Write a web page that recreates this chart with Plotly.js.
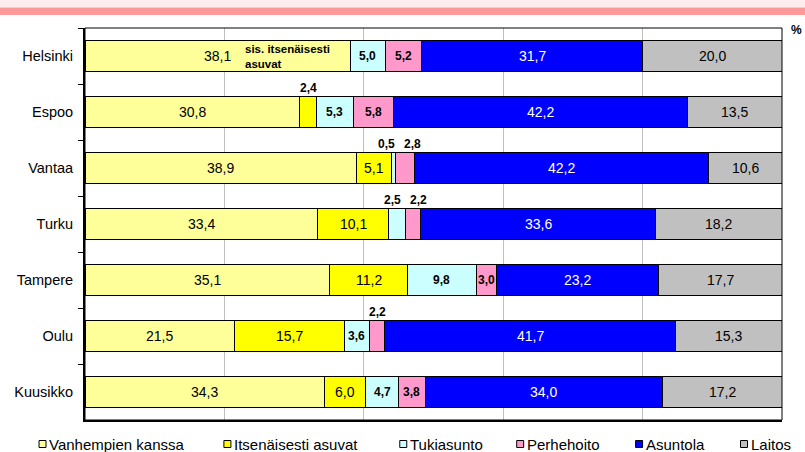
<!DOCTYPE html>
<html>
<head>
<meta charset="utf-8">
<script src="https://cdn.plot.ly/plotly-3.0.1.min.js"></script>
<style>html,body{margin:0;padding:0;background:#fff;}#chart{width:805px;height:452px;}</style>
</head>
<body>
<div id="chart"></div>
<script>
const categories = ['Helsinki', 'Espoo', 'Vantaa', 'Turku', 'Tampere', 'Oulu', 'Kuusikko'];
const seriesNames = ['Vanhempien kanssa', 'Itsenäisesti asuvat', 'Tukiasunto', 'Perhehoito', 'Asuntola', 'Laitos'];
const vanhempienKanssa = [38.1, 30.8, 38.9, 33.4, 35.1, 21.5, 34.3];
const itsenaisestiAsuvat = [null, 2.4, 5.1, 10.1, 11.2, 15.7, 6.0];
const tukiasunto = [5.0, 5.3, 0.5, 2.5, 9.8, 3.6, 4.7];
const perhehoito = [5.2, 5.8, 2.8, 2.2, 3.0, 2.2, 3.8];
const asuntola = [31.7, 42.2, 42.2, 33.6, 23.2, 41.7, 34.0];
const laitos = [20.0, 13.5, 10.6, 18.2, 17.7, 15.3, 17.2];
const helsinkiNote = 'sis. itsenäisesti<br>asuvat';

const seriesValues = [vanhempienKanssa, itsenaisestiAsuvat, tukiasunto, perhehoito, asuntola, laitos];
const colors = ['#FFFF99', '#FFFF00', '#CCFFFF', '#FF99CC', '#0000FF', '#C0C0C0'];
const labelColors = ['#000', '#000', '#000', '#000', '#fff', '#000'];
const boldSeries = [false, false, true, true, false, false];
const FONT = 'Liberation Sans, Arial, sans-serif';

// plot area geometry (pixels)
const PL = 85, PR = 782.5, PT = 28, PB = 420;
const PW = PR - PL, PH = PB - PT;
const px2x = p => (p - PL) / PW;
const px2y = p => (PB - p) / PH;

const traces = seriesNames.map((name, s) => ({
  type: 'bar',
  orientation: 'h',
  name: name,
  y: categories,
  x: seriesValues[s],
  marker: {color: colors[s], line: {color: '#000', width: 1}},
  hoverinfo: 'skip',
  showlegend: false
}));

const fmt = v => v.toFixed(1).replace('.', ',');
const pxPerUnit = PW / 100;
const annotations = [];
const shapes = [];

categories.forEach((cat, i) => {
  let cum = 0;
  let prevAbove = null;
  seriesValues.forEach((vals, s) => {
    const v = vals[i];
    if (v == null) return;
    const mid = cum + v / 2;
    cum += v;
    if (v < 3) {
      const ann = {
        x: mid, y: cat, xref: 'x', yref: 'y', text: '<b>' + fmt(v) + '</b>',
        showarrow: false, yshift: 24, xshift: 0,
        font: {family: FONT, size: 12, color: '#000'}
      };
      if (prevAbove) {
        const dist = (mid - prevAbove.x) * pxPerUnit;
        if (dist < 26) {
          const push = (26 - dist) / 2;
          prevAbove.xshift -= push;
          ann.xshift += push;
        }
      }
      annotations.push(ann);
      prevAbove = ann;
    } else {
      prevAbove = null;
      annotations.push({
        x: mid, y: cat, xref: 'x', yref: 'y',
        text: boldSeries[s] ? '<b>' + fmt(v) + '</b>' : fmt(v),
        showarrow: false,
        font: {family: FONT, size: boldSeries[s] ? 12 : 14, color: labelColors[s]}
      });
    }
  });
});

annotations.push({
  x: vanhempienKanssa[0], y: categories[0], xref: 'x', yref: 'y',
  xanchor: 'right', xshift: -19, align: 'left',
  text: '<b>' + helsinkiNote + '</b>', showarrow: false,
  font: {family: FONT, size: 11.5, color: '#000'}
});
annotations.push({
  x: px2x(797), y: px2y(30), xref: 'paper', yref: 'paper', xanchor: 'center', yanchor: 'middle',
  text: '<b>%</b>', showarrow: false, font: {family: FONT, size: 12, color: '#000'}
});

// custom legend (single row, like the original)
const legendLeft = [39, 224, 400, 517, 636, 741];
const legendY = 444;
seriesNames.forEach((name, s) => {
  const x0 = legendLeft[s];
  shapes.push({
    type: 'rect', xref: 'paper', yref: 'paper',
    x0: px2x(x0), x1: px2x(x0 + 7), y0: px2y(legendY + 3.5), y1: px2y(legendY - 3.5),
    fillcolor: colors[s], line: {color: '#000', width: 1}, layer: 'above'
  });
  annotations.push({
    x: px2x(x0 + 8), y: px2y(legendY), xref: 'paper', yref: 'paper',
    xanchor: 'left', yanchor: 'middle', text: name, showarrow: false,
    font: {family: FONT, size: 15, color: '#000'}
  });
});

shapes.push(
  {type: 'rect', xref: 'paper', yref: 'paper', x0: px2x(-20), x1: px2x(830), y0: px2y(7.5), y1: px2y(-5),
   fillcolor: '#FDEDED', line: {width: 0}, layer: 'above'},
  {type: 'rect', xref: 'paper', yref: 'paper', x0: px2x(-20), x1: px2x(830), y0: px2y(15), y1: px2y(7.5),
   fillcolor: '#FF9999', line: {width: 0}, layer: 'above'},
  {type: 'rect', xref: 'paper', yref: 'paper', x0: 0, x1: 1, y0: 0, y1: 1,
   line: {color: '#000', width: 1}, fillcolor: 'rgba(0,0,0,0)', layer: 'above'}
);

const layout = {
  width: 805, height: 452,
  margin: {l: PL, r: 805 - PR, t: PT, b: 452 - PB, pad: 0},
  paper_bgcolor: '#fff', plot_bgcolor: '#fff',
  barmode: 'stack', bargap: 0.45,
  showlegend: false,
  font: {family: FONT, size: 14, color: '#000'},
  xaxis: {
    range: [0, 100], dtick: 20, showticklabels: false, ticks: '',
    showgrid: true, gridcolor: '#C0C0C0', gridwidth: 1, zeroline: false,
    showline: true, linecolor: '#000', linewidth: 2, fixedrange: true
  },
  yaxis: {
    type: 'category', autorange: 'reversed',
    showline: true, linecolor: '#000', linewidth: 2,
    ticks: 'outside', tickson: 'boundaries', ticklen: 5, tickcolor: '#000', tickwidth: 1,
    ticklabelstandoff: 7,
    showgrid: false, zeroline: false,
    tickfont: {family: FONT, size: 14.5, color: '#000'}, fixedrange: true
  },
  shapes: shapes,
  annotations: annotations
};

Plotly.newPlot('chart', traces, layout, {staticPlot: true, displayModeBar: false});
</script>
</body>
</html>
